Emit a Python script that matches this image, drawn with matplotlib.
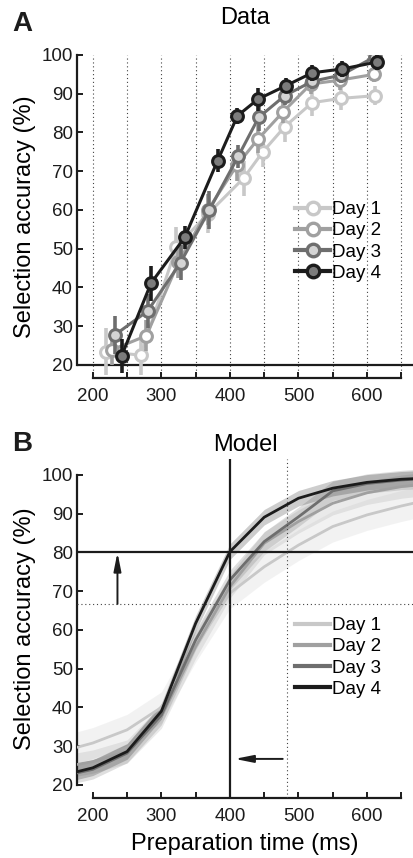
import matplotlib.pyplot as plt
from matplotlib.lines import Line2D
import numpy as np

plt.rcParams['font.family'] = ['Liberation Sans', 'DejaVu Sans']

days = ['Day 1', 'Day 2', 'Day 3', 'Day 4']

# panel A: measured accuracy (prep time ms, accuracy %, error half-length)
data_x = [
    [220, 270, 322, 368, 420, 448, 480, 520, 562, 612],
    [228, 278, 325, 368, 410, 441, 478, 518, 560, 610],
    [232, 280, 328, 370, 412, 442, 480, 520, 562, 612],
    [242, 285, 334, 382, 411, 441, 482, 520, 564, 615],
]
data_y = [
    [23.4, 22.5, 50.5, 59.0, 68.2, 75.0, 81.5, 87.7, 88.8, 89.5],
    [23.9, 27.5, 46.5, 60.0, 71.5, 78.3, 85.4, 92.5, 93.5, 95.0],
    [27.7, 33.9, 46.4, 60.0, 73.8, 83.9, 89.5, 93.2, 94.8, 99.6],
    [22.3, 41.1, 52.9, 72.7, 84.3, 88.6, 92.1, 95.4, 96.4, 98.2],
]
data_err = [
    [6.0, 5.0, 5.0, 5.0, 4.5, 4.0, 4.0, 3.5, 3.0, 2.5],
    [4.0, 4.0, 4.0, 4.0, 4.0, 3.5, 3.0, 2.5, 2.5, 2.0],
    [5.0, 4.5, 4.5, 5.0, 3.0, 3.5, 2.5, 2.0, 2.0, 2.0],
    [4.5, 4.5, 3.0, 3.0, 2.0, 3.0, 2.0, 2.0, 2.0, 2.0],
]

# panel B: model fits
model_x = [175, 200, 250, 300, 350, 400, 450, 500, 550, 600, 650, 675]
model_y = [
    [29.6, 30.8, 34.2, 40.0, 55.7, 69.5, 76.3, 81.9, 86.7, 89.7, 92.0, 93.0],
    [25.2, 26.0, 28.6, 37.6, 55.7, 71.2, 82.4, 88.0, 92.7, 95.4, 97.0, 97.5],
    [23.0, 24.0, 28.2, 38.0, 57.4, 72.9, 82.8, 89.2, 95.9, 97.8, 98.7, 99.0],
    [23.3, 24.4, 28.6, 39.0, 61.7, 80.2, 89.1, 94.0, 96.6, 98.1, 98.9, 99.1],
]
model_band = [4.0, 3.0, 2.5, 2.0]

line_cols = ['#c8c8c8', '#a0a0a0', '#6e6e6e', '#1c1c1c']
face_cols = ['white', 'white', '#d4d4d4', '#7c7c7c']

fig = plt.figure(figsize=(4.14, 8.58), dpi=100)


def style_axes(ax):
    for s in ['top', 'right']:
        ax.spines[s].set_visible(False)
    ax.spines['left'].set_bounds(20, 100)
    ax.spines['bottom'].set_bounds(200, 650)
    for s in ['left', 'bottom']:
        ax.spines[s].set_linewidth(1.6)
        ax.spines[s].set_color('#1c1c1c')
    ax.set_xlim(177, 667)
    ax.set_xticks([200, 250, 300, 350, 400, 450, 500, 550, 600, 650])
    ax.set_xticklabels(['200', '', '300', '', '400', '', '500', '', '600', ''])
    ax.set_yticks(range(20, 101, 10))
    ax.tick_params(direction='in', length=4, width=1.4, labelsize=13.5,
                   colors='#1c1c1c')
    ax.tick_params(axis='x', pad=7)
    ax.tick_params(axis='y', pad=3)
    ax.set_ylabel('Selection accuracy (%)', fontsize=17, labelpad=4)


# ---- A: data
axA = fig.add_axes([0.186, 0.5594, 0.8116, 0.3765])
style_axes(axA)
axA.set_ylim(16.6, 100)
for xv in range(200, 651, 50):
    axA.axvline(xv, color='#444444', lw=0.8, ls=(0, (1, 2.5)), zorder=0)
axA.axhline(20, color='#1c1c1c', lw=1.6, zorder=1)
handles = []
for i in range(4):
    axA.errorbar(data_x[i], data_y[i], yerr=data_err[i], color=line_cols[i],
                 lw=2.2, elinewidth=2.6, capsize=0, marker='o', ms=8.5,
                 mfc=face_cols[i], mec=line_cols[i], mew=2.2, zorder=2 + i)
    handles.append(Line2D([], [], color=line_cols[i], lw=3, marker='o',
                          ms=9, mfc=face_cols[i], mec=line_cols[i], mew=2.4))
axA.legend(handles, days, loc='center left', bbox_to_anchor=(0.712, 0.7185),
           bbox_transform=fig.transFigure, frameon=False, fontsize=13.5,
           handlelength=1.9, handletextpad=0.1, labelspacing=0.22,
           borderpad=0, borderaxespad=0)
axA.set_title('Data', fontsize=17, pad=22)
fig.text(0.053, 0.972, 'A', fontsize=20, fontweight='bold', ha='center',
         va='center', color='#1c1c1c')

# ---- B: model
axB = fig.add_axes([0.186, 0.0699, 0.8116, 0.395])
style_axes(axB)
axB.set_ylim(16.6, 104.1)
for i in range(4):
    y = np.array(model_y[i])
    axB.fill_between(model_x, y - model_band[i], y + model_band[i],
                     color=line_cols[i], alpha=0.22, lw=0, zorder=1)
for i in range(4):
    axB.plot(model_x, model_y[i], color=line_cols[i], lw=2.0, label=days[i],
             zorder=3 + i)
axB.axvline(400, color='#1c1c1c', lw=1.6, zorder=8)
axB.axhline(80, color='#1c1c1c', lw=1.6, zorder=8)
axB.axvline(483, color='#444444', lw=0.8, ls=(0, (1, 2.5)), zorder=8)
axB.axhline(66.7, color='#444444', lw=0.8, ls=(0, (1, 2.5)), zorder=8)
arrow_style = dict(arrowstyle='-|>,head_width=0.22,head_length=1.1',
                   color='#1c1c1c', lw=1.4, mutation_scale=10,
                   shrinkA=0, shrinkB=0)
axB.annotate('', xy=(236, 80), xytext=(236, 66.7), arrowprops=arrow_style)
axB.annotate('', xy=(407, 26.7), xytext=(477, 26.7), arrowprops=arrow_style)
handles, labels = axB.get_legend_handles_labels()
leg = axB.legend(handles, labels, loc='center left',
                 bbox_to_anchor=(0.712, 0.2337),
                 bbox_transform=fig.transFigure, frameon=False, fontsize=13.5,
                 handlelength=1.9, handletextpad=0.1, labelspacing=0.22,
                 borderpad=0, borderaxespad=0)
for h in leg.get_lines():
    h.set_linewidth(3)
axB.set_title('Model', fontsize=17, pad=6)
axB.set_xlabel('Preparation time (ms)', fontsize=17, labelpad=6)
fig.text(0.053, 0.483, 'B', fontsize=20, fontweight='bold', ha='center',
         va='center', color='#1c1c1c')

fig.savefig('out.png', dpi=100)
